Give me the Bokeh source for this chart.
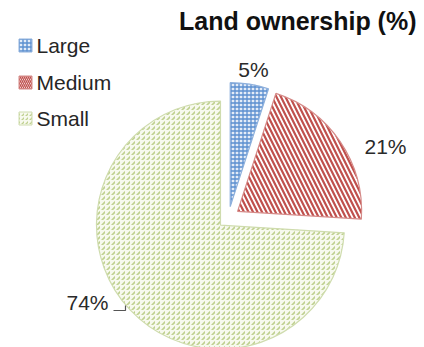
import math
from bokeh.plotting import figure
from bokeh.models import Range1d
from bokeh.core.properties import value
from bokeh.embed import file_html
from bokeh.resources import INLINE

# ---- data ----
categories = ["Large", "Medium", "Small"]
shares = [5, 21, 74]
labels = ["5%", "21%", "74%"]
title = "Land ownership (%)"

# ---- style ----
W, H = 424, 347
fills = ["#e4ecf7", "#ffffff", "#f7f9ee"]
hatch_colors = ["#5b8fd0", "#c0504d", "#bfd08f"]
outline_colors = ["#8eb0dc", "#d58a88", "#cfdcae"]
hatches = ["cross", "left_diagonal_line", "right_diagonal_dash"]
hatch_scales = [4, 9, 5]
hatch_weights = [1.3, 2.2, 1.6]
FONT = "Liberation Sans"

def py(y):  # pixel-from-top to data y
    return H - y

p = figure(width=W, height=H, output_backend="svg", toolbar_location=None,
           x_range=Range1d(0, W), y_range=Range1d(0, H), min_border=0)
p.axis.visible = False
p.grid.visible = False
p.outline_line_color = None
p.background_fill_color = "white"

cx, cy = 228, py(217)
R = 124
explode = 11

total = sum(shares)
start = 90.0
label_pos = [(253, 69), (385, 146), (87, 302)]
for i, (cat, v) in enumerate(zip(categories, shares)):
    sweep = 360.0 * v / total
    a1 = start
    a0 = start - sweep
    mid = math.radians((a0 + a1) / 2)
    ox = cx + explode * math.cos(mid)
    oy = cy + explode * math.sin(mid)
    p.wedge(x=ox, y=oy, radius=R, start_angle=math.radians(a0), end_angle=math.radians(a1),
            fill_color=fills[i], hatch_pattern=hatches[i], hatch_color=hatch_colors[i],
            hatch_scale=hatch_scales[i], hatch_weight=hatch_weights[i],
            line_color=outline_colors[i], line_width=1.2)
    start = a0
    lx, ly = label_pos[i]
    p.text(x=[lx], y=[py(ly)], text=[labels[i]], text_align="center", text_baseline="middle",
           text_font=value(FONT), text_font_size="21px", text_color="#2a2a2a")

# leader line for 74%
p.line(x=[113, 125, 125], y=[py(310), py(310), py(305)], line_color="#555555", line_width=1.2)

# title
p.text(x=[416], y=[py(20)], text=[title], text_align="right", text_baseline="middle",
       text_font=value(FONT), text_font_size="25px", text_font_style="bold", text_color="#111111")

# legend
leg_y = [45, 82, 118]
for i, cat in enumerate(categories):
    y = py(leg_y[i])
    p.rect(x=[25], y=[y], width=13, height=13, fill_color=fills[i], hatch_pattern=hatches[i],
           hatch_color=hatch_colors[i], hatch_scale=4, hatch_weight=1.4,
           line_color=outline_colors[i], line_width=1)
    p.text(x=[36], y=[y], text=[cat], text_align="left", text_baseline="middle",
           text_font=value(FONT), text_font_size="21px", text_color="#262626")

open("out.html", "w").write(file_html(p, INLINE))
